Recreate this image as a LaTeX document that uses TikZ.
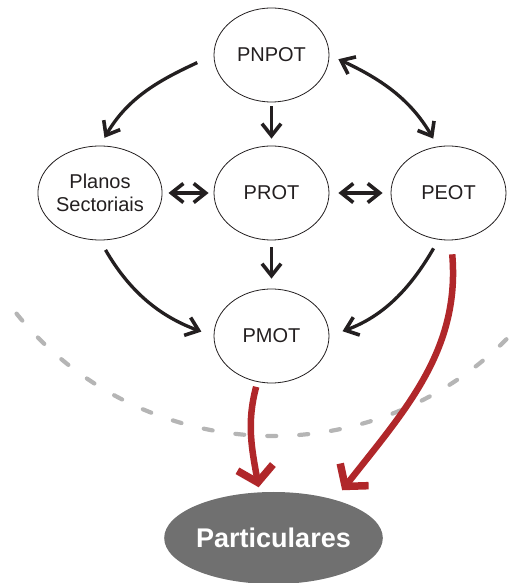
\documentclass[tikz,border=0pt]{standalone}
\usepackage{fontspec}
\setmainfont{Liberation Sans}
\usetikzlibrary{shapes.geometric, arrows.meta, positioning, calc}
\usepackage{xcolor}
\definecolor{txtblk}{HTML}{231F20}
\definecolor{planred}{HTML}{B0272A}
\definecolor{partgray}{HTML}{707070}
\definecolor{limgray}{HTML}{B5B5B5}

\begin{document}
\begin{tikzpicture}[x=1pt, y=1pt,
    plano/.style={draw=txtblk, ellipse, line width=0.8pt, minimum width=115pt, minimum height=94pt, inner sep=0pt, text=txtblk, font=\fontsize{20}{23}\selectfont, align=center},
    seta/.style={line width=3.3pt, draw=txtblk, -{Straight Barb[length=12pt, width=19pt, line width=3.6pt]}},
    setadupla/.style={line width=3.3pt, draw=txtblk, {Straight Barb[length=12pt, width=19pt, line width=3.6pt]}-{Straight Barb[length=12pt, width=19pt, line width=3.6pt]}},
    setared/.style={line width=6.5pt, draw=planred, -{Straight Barb[length=15pt, width=36pt, line width=7.5pt]}},
    limite/.style={line width=4.2pt, draw=limgray, line cap=round, dash pattern=on 9pt off 23pt}]
    \useasboundingbox (0,0) rectangle (518,583);

    \node[plano] (pnpot) at (271.5,528) {PNPOT};
    \node[plano] (planos) at (100,390) {Planos\\Sectoriais};
    \node[plano] (prot) at (271.5,390) {PROT};
    \node[plano] (peot) at (448.5,390) {PEOT};
    \node[plano] (pmot) at (271.5,247) {PMOT};
    \node[ellipse, fill=partgray, minimum width=211pt, minimum height=92pt, inner sep=0pt, text=white, font=\fontsize{27}{30}\selectfont\bfseries] (part) at (273.5,45) {Particulares};

    % limite entre planos e particulares
    \coordinate (arcc) at (273,477);
    \draw[limite] (arcc) ++(219:330) arc[start angle=219, end angle=316, radius=330];

    \draw[seta, shorten <=18pt, shorten >=9pt] (pnpot.west) to[out=205, in=60] (planos.north);
    \draw[seta, shorten <=4pt, shorten >=7pt] (pnpot.south) -- (prot.north);
    \draw[setadupla, shorten <=10pt, shorten >=9pt] (pnpot.east) to[out=-25, in=120] (peot.103);
    \draw[setadupla, shorten <=6pt, shorten >=5pt] (planos.east) -- (prot.west);
    \draw[setadupla, shorten <=9pt, shorten >=8pt] (prot.east) -- (peot.west);
    \draw[seta, shorten <=7pt, shorten >=10pt] (prot.south) -- (pmot.north);
    \draw[seta, shorten <=11pt, shorten >=13pt] (planos.south) to[out=-60, in=160] (pmot.west);
    \draw[seta, shorten <=10pt, shorten >=14pt] (peot.258) to[out=240, in=20] (pmot.east);

    \draw[setared, shorten <=5pt, shorten >=5pt] (pmot.253) to[out=255, in=100] (part.107);
    \draw[setared, shorten <=14pt, shorten >=12pt] (peot.273) to[out=275, in=52] (part.32);
\end{tikzpicture}
\end{document}
